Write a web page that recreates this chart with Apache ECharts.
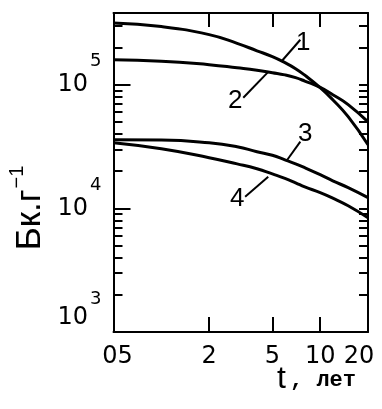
<!DOCTYPE html>
<html>
<head>
<meta charset="utf-8">
<script src="https://cdn.jsdelivr.net/npm/echarts@6/dist/echarts.min.js"></script>
<style>
html,body{margin:0;padding:0;background:#fff;}
#chart{width:382px;height:409px;}
</style>
</head>
<body>
<div id="chart"></div>
<script>
// время, лет
var years = [0.5, 1, 2, 3, 4, 5, 6, 7, 8, 10, 12, 15, 20];
// удельная активность, Бк/г
var curve1 = [315000, 295000, 254000, 216000, 188000, 168500, 150700, 134700, 119400, 94600, 75600, 55100, 32700];
var curve2 = [159000, 155000, 145000, 137000, 131000, 125000, 120000, 114000, 107000, 95000, 83000, 69000, 50000];
var curve3 = [35900, 35700, 33900, 31500, 28700, 26900, 24700, 22900, 21300, 18700, 16700, 14700, 12200];
var curve4 = [33900, 30300, 25700, 22900, 20900, 19000, 17500, 16100, 14900, 13400, 12100, 10500, 8400];

// подписи кривых и выноски: [x1, y1, x2, y2]
var curveNames = ['1', '2', '3', '4'];
var leaders = [
	[5.77, 157000, 7.5, 231000],
	[4.71, 127000, 3.28, 78500],
	[6.21, 24700, 7.5, 34600],
	[4.71, 18000, 3.37, 12400]
];
var namePos = [
	[7.83, 219000],
	[2.92, 74200],
	[8.06, 40100],
	[3.0, 11900]
];

// деления осей
var xRange = [0.5, 20];
var yRange = [1000, 380000];
var xTicks = [2, 5, 10];
var xLabels = [0.5, 2, 5, 10, 20];
var yMajor = [10000, 100000];
var yLabels = [1000, 10000, 100000];
var yMinor = [2000, 3000, 4000, 5000, 6000, 7000, 8000, 9000,
	20000, 30000, 40000, 50000, 60000, 70000, 80000, 90000, 200000, 300000];

var font = 'DejaVu Sans';
var lg = function (v) { return Math.log(v) / Math.LN10; };

function pairs(xs, ys)
{
	var out = [];
	for (var i = 0; i < xs.length; i++)
	{
		out.push([xs[i], ys[i]]);
	}
	return out;
}

var myChart = echarts.init(document.getElementById('chart'), null, {renderer: 'canvas'});

var series = [];
var curves = [curve1, curve2, curve3, curve4];
for (var i = 0; i < curves.length; i++)
{
	series.push({
		type: 'line',
		name: curveNames[i],
		data: pairs(years, curves[i]),
		smooth: true,
		showSymbol: false,
		silent: true,
		lineStyle: {color: '#000', width: 3},
		z: 3
	});
}
// выноски
for (var i = 0; i < leaders.length; i++)
{
	var l = leaders[i];
	series.push({
		type: 'line',
		data: [[l[0], l[1]], [l[2], l[3]]],
		showSymbol: false,
		silent: true,
		lineStyle: {color: '#000', width: 2},
		z: 3
	});
}
// номера кривых
var nameData = [];
for (var i = 0; i < namePos.length; i++)
{
	nameData.push({name: curveNames[i], value: namePos[i]});
}
series.push({
	type: 'scatter',
	data: nameData,
	symbolSize: 0,
	silent: true,
	itemStyle: {opacity: 1, color: '#000'},
	label: {
		show: true,
		position: 'inside',
		formatter: '{b}',
		fontFamily: 'Liberation Sans',
		fontSize: 26,
		color: '#000',
		opacity: 1
	}
});

var lineStyle = {color: '#000', width: 2};

// ось только для делений (шкала в lg, чтобы деления стояли на тех же местах)
function tickAxis(pos, range, values, len)
{
	return {
		type: 'value', position: pos, min: lg(range[0]), max: lg(range[1]),
		axisLine: {show: false, onZero: false},
		axisTick: {show: true, inside: true, length: len, lineStyle: lineStyle, customValues: values.map(lg)},
		axisLabel: {show: false},
		splitLine: {show: false}
	};
}

var option = {
	backgroundColor: '#fff',
	animation: false,
	grid: {left: 113.5, right: 14, top: 13, bottom: 77, containLabel: false, outerBoundsMode: 'none'},
	xAxis: [
		{
			type: 'log', position: 'bottom', min: xRange[0], max: xRange[1],
			axisLine: {show: true, onZero: false, lineStyle: lineStyle},
			axisTick: {show: false},
			axisLabel: {
				show: true, margin: 13, customValues: xLabels,
				fontFamily: font, fontSize: 24, color: '#000',
				formatter: function (v) {
					if (v < 1) return '{p|05}';
					if (Math.round(v) == 20) return '{q|20}';
					return '' + Math.round(v);
				},
				rich: {
					p: {fontFamily: font, fontSize: 24, color: '#000', padding: [0, 0, 0, 8]},
					q: {fontFamily: font, fontSize: 24, color: '#000', padding: [0, 18, 0, 0]}
				}
			},
			splitLine: {show: false}
		},
		{
			type: 'log', position: 'top', min: xRange[0], max: xRange[1],
			axisLine: {show: true, onZero: false, lineStyle: lineStyle},
			axisTick: {show: false},
			axisLabel: {show: false},
			splitLine: {show: false}
		},
		tickAxis('bottom', xRange, xTicks, 15),
		tickAxis('top', xRange, xTicks, 14)
	],
	yAxis: [
		{
			type: 'log', position: 'left', min: yRange[0], max: yRange[1],
			axisLine: {show: true, onZero: false, lineStyle: lineStyle},
			axisTick: {show: false},
			axisLabel: {
				show: true, margin: 12, customValues: yLabels,
				formatter: function (v) {
					var p = Math.round(lg(v));
					if (p == 3) return '{a3|10}{e3|3}';
					return '{a|10}{e|' + p + '}';
				},
				rich: {
					a: {fontFamily: font, fontSize: 24, lineHeight: 24, color: '#000', verticalAlign: 'bottom'},
					e: {fontFamily: font, fontSize: 18, lineHeight: 18, color: '#000', verticalAlign: 'bottom', padding: [0, 0, 26, 2]},
					a3: {fontFamily: font, fontSize: 24, lineHeight: 24, color: '#000', verticalAlign: 'bottom', padding: [0, 0, 14, 0]},
					e3: {fontFamily: font, fontSize: 18, lineHeight: 18, color: '#000', verticalAlign: 'bottom', padding: [0, 0, 36, 2]}
				}
			},
			splitLine: {show: false}
		},
		{
			type: 'log', position: 'right', min: yRange[0], max: yRange[1],
			axisLine: {show: true, onZero: false, lineStyle: lineStyle},
			axisTick: {show: false},
			axisLabel: {show: false},
			splitLine: {show: false}
		},
		tickAxis('left', yRange, yMajor, 17),
		tickAxis('left', yRange, yMinor, 9),
		tickAxis('right', yRange, yMinor.concat(yMajor), 9)
	],
	graphic: [
		{
			// подпись оси Y
			type: 'text', x: 30, y: 208, rotation: Math.PI / 2,
			style: {
				text: '{a|Бк.г}{s|−1}',
				align: 'center', verticalAlign: 'middle',
				rich: {
					a: {fontFamily: 'Liberation Sans', fontSize: 35, lineHeight: 35, fill: '#000', verticalAlign: 'bottom'},
					s: {fontFamily: 'Liberation Sans', fontSize: 20, lineHeight: 20, fill: '#000', verticalAlign: 'bottom', padding: [0, 0, 20, 1]}
				}
			}
		},
		{
			// подпись оси X
			type: 'text', x: 277, y: 379,
			style: {text: 't', fontFamily: 'Liberation Sans', fontSize: 32, fill: '#000', align: 'left', verticalAlign: 'middle'}
		},
		{
			type: 'text', x: 290, y: 380.5,
			style: {text: ', лет', fontFamily: 'Liberation Mono', fontWeight: 'bold', fontSize: 22, fill: '#000', align: 'left', verticalAlign: 'middle'}
		}
	],
	series: series
};

myChart.setOption(option);
</script>
</body>
</html>
